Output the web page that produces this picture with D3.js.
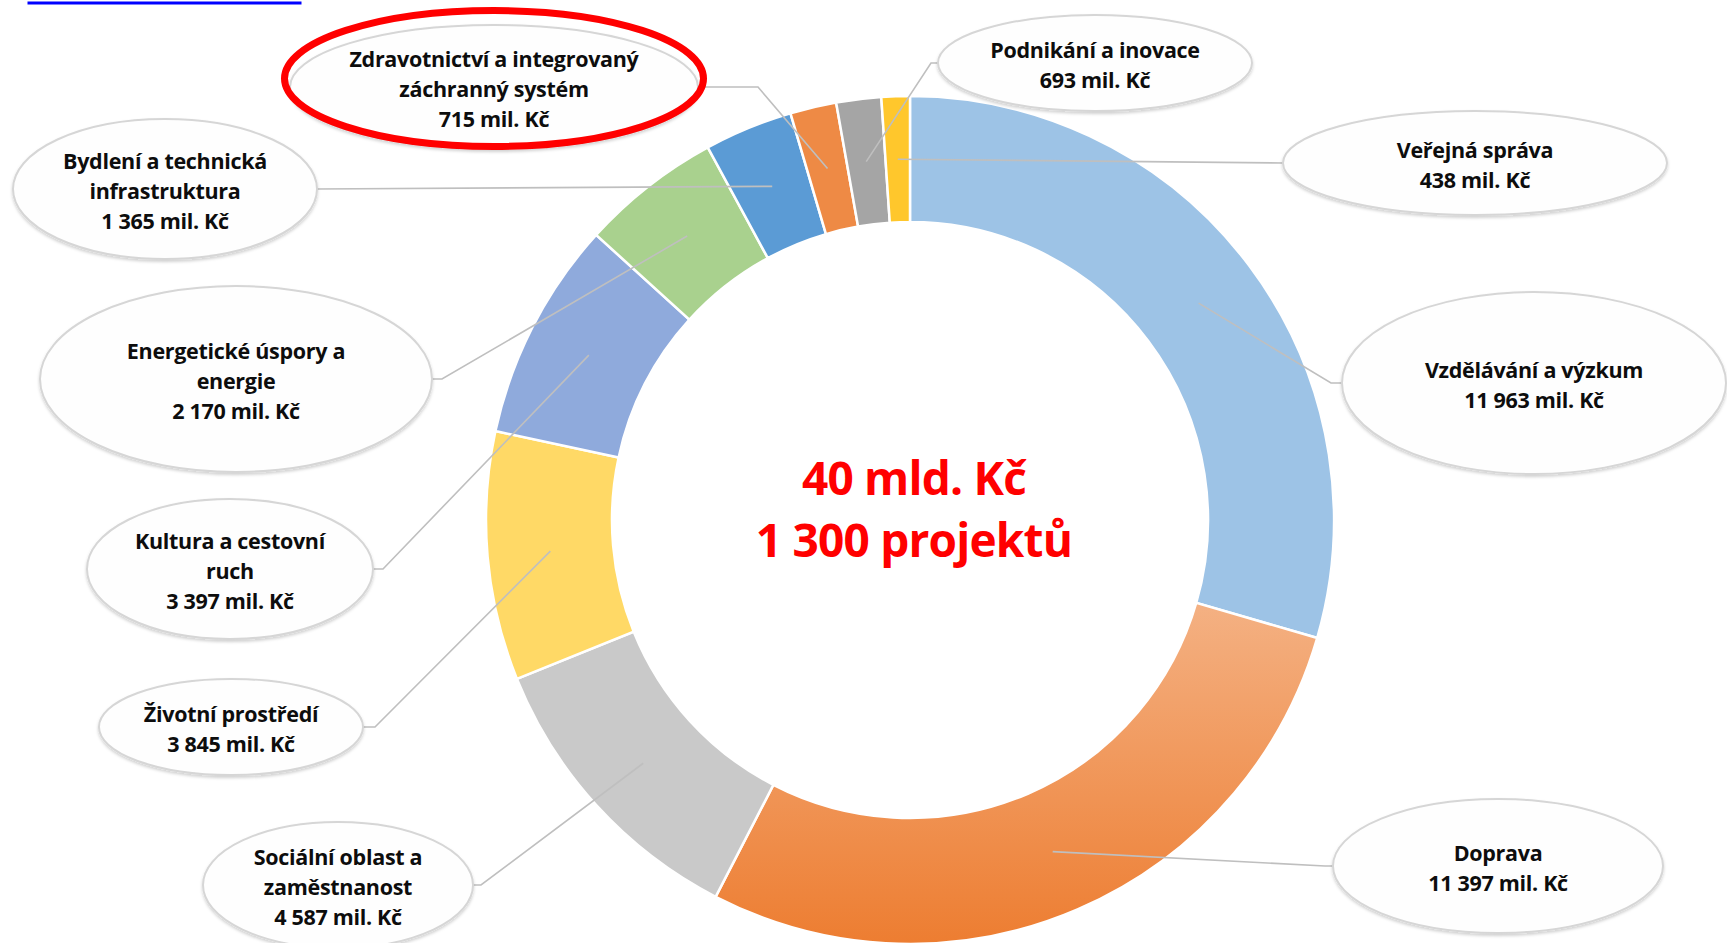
<!DOCTYPE html>
<html>
<head>
<meta charset="utf-8">
<script src="https://cdn.jsdelivr.net/npm/d3@7"></script>
<style>
  body { margin: 0; background: #fff; }
  #chart-container { width: 1727px; height: 943px; overflow: hidden; }
</style>
</head>
<body>
<div id="chart-container"></div>
<script>
// Categories (clockwise from 12 o'clock) and their amounts in mil. Kč
const categories = [
    "Vzdělávání a výzkum",
    "Doprava",
    "Sociální oblast a zaměstnanost",
    "Životní prostředí",
    "Kultura a cestovní ruch",
    "Energetické úspory a energie",
    "Bydlení a technická infrastruktura",
    "Zdravotnictví a integrovaný záchranný systém",
    "Podnikání a inovace",
    "Veřejná správa"
];
const values = [11963, 11397, 4587, 3845, 3397, 2170, 1365, 715, 693, 438];

// How each category name is broken into lines inside its callout
const labelRows = [
    ["Vzdělávání a výzkum"],
    ["Doprava"],
    ["Sociální oblast a", "zaměstnanost"],
    ["Životní prostředí"],
    ["Kultura a cestovní", "ruch"],
    ["Energetické úspory a", "energie"],
    ["Bydlení a technická", "infrastruktura"],
    ["Zdravotnictví a integrovaný", "záchranný systém"],
    ["Podnikání a inovace"],
    ["Veřejná správa"]
];

const colors = ["#9DC3E6", "url(#doprava-grad)", "#C9C9C9", "#FFD966", "#8FAADC",
                "#A9D18E", "#5B9BD5", "#EE8A45", "#A5A5A5", "#FFC72C"];

const projectCount = 1300;
const highlighted = 7;  // the callout circled in red

// Callout bubble layout (centre, radii, which side the leader leaves from, stub length)
const callouts = [
    { cx: 1534, cy: 383, rx: 192, ry: 91, side: "left",  stub: 11 },
    { cx: 1498, cy: 866, rx: 165, ry: 67, side: "left",  stub: 8 },
    { cx: 338,  cy: 885, rx: 135, ry: 63, side: "right", stub: 8 },
    { cx: 231,  cy: 727, rx: 132, ry: 48, side: "right", stub: 12 },
    { cx: 230,  cy: 569, rx: 143, ry: 70, side: "right", stub: 10 },
    { cx: 236,  cy: 379, rx: 196, ry: 93, side: "right", stub: 10 },
    { cx: 165,  cy: 189, rx: 152, ry: 70, side: "right", stub: 0 },
    { cx: 494,  cy: 87,  rx: 204, ry: 62, side: "right", stub: 60 },
    { cx: 1095, cy: 63,  rx: 157, ry: 48, side: "left",  stub: 7 },
    { cx: 1475, cy: 163, rx: 192, ry: 52, side: "left",  stub: 0 }
];

const width = 1727, height = 943;
const center = { x: 910, y: 520 };
const outerR = 424, innerR = 298;
const fontStack = "'Open Sans', Lato, sans-serif";

const fmt = d3.formatLocale({ decimal: ",", thousands: " ", grouping: [3], currency: ["", " Kč"] }).format(",");

const svg = d3.select("#chart-container")
    .append("svg")
    .attr("width", width)
    .attr("height", height);

const defs = svg.append("defs");

// Vertical gradient used by the "Doprava" slice
const grad = defs.append("linearGradient")
    .attr("id", "doprava-grad")
    .attr("x1", 0).attr("y1", 0).attr("x2", 0).attr("y2", 1);
grad.append("stop").attr("offset", "0%").attr("stop-color", "#F4B183");
grad.append("stop").attr("offset", "100%").attr("stop-color", "#ED7D31");

// Soft shadow under the callouts
const shadow = defs.append("filter")
    .attr("id", "soft-shadow")
    .attr("x", "-10%").attr("y", "-10%").attr("width", "120%").attr("height", "130%");
shadow.append("feDropShadow")
    .attr("dx", 0).attr("dy", 2)
    .attr("stdDeviation", 1.5)
    .attr("flood-color", "#000")
    .attr("flood-opacity", 0.18);

// Blue underline remnant at the top left
svg.append("rect")
    .attr("x", 27.5).attr("y", 1.5)
    .attr("width", 274).attr("height", 3)
    .attr("fill", "#0000FF");

// Donut
const pie = d3.pie().sort(null).value(d => d);
const arcs = pie(values);
const arc = d3.arc().innerRadius(innerR).outerRadius(outerR);

const donut = svg.append("g")
    .attr("transform", `translate(${center.x},${center.y})`);

donut.selectAll("path")
    .data(arcs)
    .enter()
    .append("path")
    .attr("d", arc)
    .attr("fill", (d, i) => colors[i])
    .attr("stroke", "#fff")
    .attr("stroke-width", 2.5);

// Leader lines from callout to slice centroid
const leaders = svg.append("g");
arcs.forEach((d, i) => {
    const c = callouts[i];
    const [mx, my] = arc.centroid(d);
    const ex = c.side === "left" ? c.cx - c.rx : c.cx + c.rx;
    const sx = c.side === "left" ? ex - c.stub : ex + c.stub;
    leaders.append("polyline")
        .attr("points", [[ex, c.cy], [sx, c.cy], [center.x + mx, center.y + my]].map(p => p.join(",")).join(" "))
        .attr("fill", "none")
        .attr("stroke", "#BFBFBF")
        .attr("stroke-width", 1.6);
});

// Callouts
const bubbles = svg.selectAll(".callout")
    .data(categories)
    .enter()
    .append("g")
    .attr("class", "callout");

bubbles.append("ellipse")
    .attr("cx", (d, i) => callouts[i].cx)
    .attr("cy", (d, i) => callouts[i].cy)
    .attr("rx", (d, i) => callouts[i].rx)
    .attr("ry", (d, i) => callouts[i].ry)
    .attr("fill", "#FEFEFE")
    .attr("stroke", "#D6D6D6")
    .attr("stroke-width", 2)
    .attr("filter", "url(#soft-shadow)");

bubbles.each(function(d, i) {
    const c = callouts[i];
    const lines = labelRows[i].concat([fmt(values[i]) + " mil. Kč"]);
    d3.select(this).selectAll("text")
        .data(lines)
        .enter()
        .append("text")
        .attr("x", c.cx)
        .attr("y", (t, j) => c.cy + 1 + (j - (lines.length - 1) / 2) * 30)
        .attr("text-anchor", "middle")
        .attr("dominant-baseline", "central")
        .style("font-family", fontStack)
        .style("font-weight", 700)
        .style("font-size", "21.5px")
        .style("letter-spacing", "-0.3px")
        .attr("fill", "#0D0D0D")
        .text(t => t);
});

// Red ring drawn around the highlighted callout
const hc = callouts[highlighted];
svg.append("ellipse")
    .attr("cx", hc.cx)
    .attr("cy", hc.cy - 8.5)
    .attr("rx", hc.rx + 5.5)
    .attr("ry", hc.ry + 6)
    .attr("fill", "none")
    .attr("stroke", "#FF0000")
    .attr("stroke-width", 7);

// Centre totals
const total = d3.sum(values);
const centerText = svg.append("g")
    .attr("transform", `translate(${center.x + 4},${center.y})`)
    .attr("text-anchor", "middle")
    .style("font-family", fontStack)
    .style("font-weight", 700)
    .style("font-size", "46px")
    .style("letter-spacing", "-0.8px")
    .attr("fill", "#FF0000");

centerText.append("text")
    .attr("y", -25)
    .text(Math.floor(total / 1000) + " mld. Kč");

centerText.append("text")
    .attr("y", 37)
    .text(fmt(projectCount) + " projektů");
</script>
</body>
</html>
